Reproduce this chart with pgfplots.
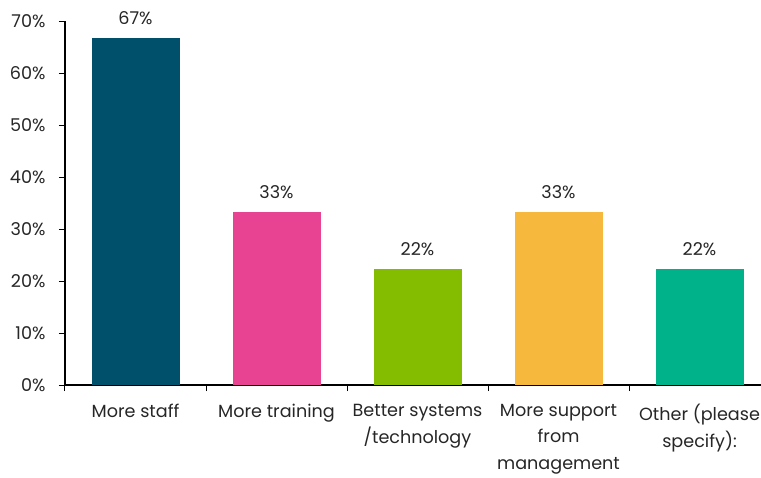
\documentclass[border=0pt]{standalone}
\usepackage{fontspec}
\setmainfont{Poppins}
\usepackage{pgfplots}
\pgfplotsset{compat=1.18}
\definecolor{c1}{HTML}{004F6B}
\definecolor{c2}{HTML}{E84393}
\definecolor{c3}{HTML}{84BC00}
\definecolor{c4}{HTML}{F7B83E}
\definecolor{c5}{HTML}{00B28A}
\definecolor{txt}{HTML}{262626}
\begin{document}
\begin{tikzpicture}
\useasboundingbox (-65pt,-92pt) rectangle (696pt,385pt);
\begin{axis}[
  at={(0,0)}, anchor=south west,
  scale only axis, width=696pt, height=364pt,
  xmin=-0.5, xmax=4.436, ymin=0, ymax=70,
  axis x line=bottom, axis y line=left,
  axis line style={-, line width=1.1pt, black},
  ybar, bar width=88pt, bar shift=0pt,
  xtick={0,1,2,3,4},
  xticklabels={More staff, More training, {Better systems\\/technology}, {More support\\from\\management}, {Other (please\\specify):}},
  minor xtick={-0.5,0.5,1.5,2.5,3.5,4.5},
  x tick style={draw=none},
  minor x tick style={draw=black, line width=1pt},
  minor tick length=6pt,
  ytick={0,10,...,70},
  yticklabel={\pgfmathprintnumber{\tick}\%},
  /pgf/number format/assume math mode=true,
  y tick style={black, line width=1pt},
  major tick length=6pt,
  tick align=outside,
  tick label style={font=\fontsize{17.6}{26.2}\selectfont, text=txt},
  xticklabel style={align=center, yshift=-10pt},
  yticklabel style={xshift=-10pt},
  nodes near coords,
  point meta=explicit symbolic,
  every node near coord/.append style={font=\fontsize{17.6}{26}\selectfont, text=txt, anchor=base, yshift=13.5pt},
  clip=false,
]
\addplot[fill=c1, draw=none] coordinates {(0,66.67) [67\%]};
\addplot[fill=c2, draw=none] coordinates {(1,33.33) [33\%]};
\addplot[fill=c3, draw=none] coordinates {(2,22.22) [22\%]};
\addplot[fill=c4, draw=none] coordinates {(3,33.33) [33\%]};
\addplot[fill=c5, draw=none] coordinates {(4,22.22) [22\%]};
\end{axis}
\end{tikzpicture}
\end{document}
